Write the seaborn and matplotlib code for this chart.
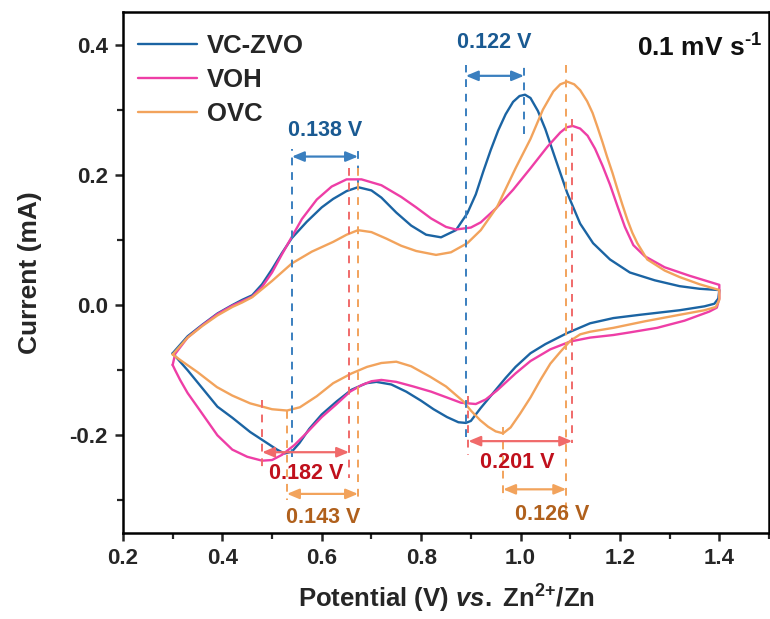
import numpy as np
import pandas as pd
import matplotlib
matplotlib.use("Agg")
import matplotlib.pyplot as plt
from matplotlib.ticker import MultipleLocator
import seaborn as sns

# ---------------- data ----------------
vczvo_x = [0.30, 0.33, 0.36, 0.39, 0.42, 0.44, 0.46, 0.48, 0.50, 0.52, 0.54, 0.57, 0.60, 0.623, 0.65, 0.673,
           0.70, 0.72, 0.75, 0.78, 0.81, 0.84, 0.87, 0.893, 0.91, 0.925, 0.94, 0.955, 0.97, 0.985, 0.998, 1.009,
           1.02, 1.035, 1.05, 1.07, 1.094, 1.12, 1.146, 1.18, 1.22, 1.27, 1.32, 1.36, 1.40,
           1.398, 1.39, 1.37, 1.32, 1.24, 1.187, 1.14, 1.094, 1.05, 1.02, 0.99, 0.97, 0.945, 0.92, 0.90,
           0.89, 0.875, 0.852, 0.825, 0.80, 0.77, 0.74, 0.71, 0.69, 0.66, 0.63, 0.60, 0.575, 0.555, 0.54,
           0.525, 0.51, 0.48, 0.456, 0.42, 0.39, 0.36, 0.33, 0.30]
vczvo_y = [-0.074, -0.048, -0.030, -0.013, 0.000, 0.008, 0.015, 0.032, 0.055, 0.080, 0.103, 0.128, 0.150, 0.163,
           0.175, 0.181, 0.176, 0.165, 0.142, 0.122, 0.108, 0.104, 0.115, 0.141, 0.170, 0.205, 0.238, 0.268,
           0.293, 0.312, 0.321, 0.323, 0.318, 0.298, 0.270, 0.225, 0.172, 0.125, 0.095, 0.070, 0.050, 0.038,
           0.029, 0.025, 0.023,
           0.010, 0.002, -0.002, -0.008, -0.015, -0.020, -0.028, -0.043, -0.060, -0.074, -0.095, -0.112,
           -0.135, -0.158, -0.178, -0.181, -0.180, -0.172, -0.160, -0.147, -0.133, -0.122, -0.118, -0.120,
           -0.130, -0.148, -0.168, -0.190, -0.212, -0.225, -0.228, -0.222, -0.207, -0.195, -0.173, -0.156,
           -0.128, -0.100, -0.074]

voh_x = [0.30, 0.305, 0.33, 0.36, 0.39, 0.42, 0.44, 0.46, 0.48, 0.50, 0.52, 0.54, 0.56, 0.59, 0.62, 0.65, 0.68,
         0.72, 0.76, 0.79, 0.82, 0.85, 0.87, 0.90, 0.92, 0.95, 0.985, 1.02, 1.054, 1.08, 1.093, 1.105, 1.12,
         1.135, 1.15, 1.165, 1.18, 1.195, 1.21, 1.227, 1.25, 1.29, 1.34, 1.40,
         1.40, 1.395, 1.38, 1.33, 1.275, 1.22, 1.187, 1.14, 1.10, 1.06, 1.02, 0.99, 0.953, 0.93, 0.91, 0.88,
         0.852, 0.82, 0.784, 0.75, 0.72, 0.70, 0.68, 0.657, 0.63, 0.60, 0.57, 0.545, 0.52, 0.50, 0.48, 0.45,
         0.42, 0.39, 0.355, 0.33, 0.315, 0.305, 0.30]
voh_y = [-0.092, -0.075, -0.050, -0.031, -0.014, -0.001, 0.006, 0.013, 0.028, 0.050, 0.078, 0.105, 0.132,
         0.162, 0.182, 0.193, 0.193, 0.184, 0.166, 0.150, 0.133, 0.120, 0.116, 0.119, 0.127, 0.148, 0.177,
         0.210, 0.243, 0.265, 0.273, 0.275, 0.271, 0.260, 0.240, 0.214, 0.185, 0.152, 0.120, 0.092, 0.075,
         0.058, 0.045, 0.031,
         0.010, -0.004, -0.010, -0.024, -0.035, -0.042, -0.046, -0.050, -0.056, -0.068, -0.086, -0.105,
         -0.131, -0.145, -0.152, -0.150, -0.142, -0.133, -0.125, -0.118, -0.115, -0.117, -0.123, -0.133,
         -0.152, -0.172, -0.196, -0.215, -0.230, -0.238, -0.239, -0.233, -0.222, -0.200, -0.162, -0.135,
         -0.115, -0.100, -0.092]

ovc_x = [0.30, 0.33, 0.36, 0.39, 0.42, 0.44, 0.46, 0.50, 0.54, 0.58, 0.623, 0.65, 0.673, 0.70, 0.73, 0.76,
         0.79, 0.83, 0.86, 0.893, 0.92, 0.953, 0.99, 1.02, 1.045, 1.066, 1.08, 1.094, 1.108, 1.12, 1.134,
         1.145, 1.155, 1.165, 1.174, 1.185, 1.195, 1.205, 1.215, 1.225, 1.235, 1.255, 1.29, 1.32, 1.36, 1.40,
         1.40, 1.393, 1.37, 1.32, 1.25, 1.187, 1.14, 1.12, 1.10, 1.08, 1.06, 1.04, 1.02, 0.999, 0.98, 0.965,
         0.95, 0.935, 0.919, 0.90, 0.885, 0.85, 0.818, 0.78, 0.75, 0.72, 0.691, 0.66, 0.623, 0.59, 0.556,
         0.53, 0.50, 0.456, 0.42, 0.389, 0.35, 0.32, 0.30]
ovc_y = [-0.076, -0.050, -0.032, -0.016, -0.003, 0.004, 0.012, 0.037, 0.064, 0.082, 0.097, 0.108, 0.115,
         0.112, 0.102, 0.091, 0.083, 0.077, 0.081, 0.095, 0.115, 0.151, 0.210, 0.255, 0.300, 0.328, 0.339,
         0.343, 0.339, 0.330, 0.313, 0.295, 0.273, 0.250, 0.228, 0.203, 0.178, 0.154, 0.131, 0.111, 0.095,
         0.070, 0.053, 0.043, 0.032, 0.023,
         0.008, -0.003, -0.008, -0.015, -0.025, -0.035, -0.041, -0.045, -0.055, -0.072, -0.090, -0.115,
         -0.142, -0.167, -0.188, -0.197, -0.194, -0.187, -0.177, -0.162, -0.148, -0.125, -0.110, -0.094,
         -0.087, -0.089, -0.095, -0.105, -0.120, -0.140, -0.157, -0.162, -0.160, -0.151, -0.139, -0.126,
         -0.103, -0.087, -0.076]

series_names = ["VC-ZVO", "VOH", "OVC"]
series_colors = ["#1b64a3", "#ee3ea6", "#f2a35c"]

sep_labels = ["0.138 V", "0.122 V", "0.182 V", "0.143 V", "0.201 V", "0.126 V"]

# ---------------- styling ----------------
sns.set_theme(style="ticks")
plt.rcParams["font.family"] = ["Liberation Sans", "DejaVu Sans"]
plt.rcParams["font.weight"] = "bold"
plt.rcParams["mathtext.fontset"] = "custom"
plt.rcParams["mathtext.rm"] = "Liberation Sans:bold"
plt.rcParams["mathtext.bf"] = "Liberation Sans:bold"
plt.rcParams["mathtext.it"] = "Liberation Sans:bold:italic"
plt.rcParams["mathtext.default"] = "rm"

fig = plt.figure(figsize=(7.7, 6.19), dpi=100)
ax = fig.add_axes([0.1597, 0.139, 0.839, 0.8416])

frames = []
for name, xs, ys in zip(series_names, [vczvo_x, voh_x, ovc_x], [vczvo_y, voh_y, ovc_y]):
    frames.append(pd.DataFrame({"Potential": xs, "Current": ys, "Sample": name}))
df = pd.concat(frames, ignore_index=True)

for name, col in zip(series_names, series_colors):
    sub = df[df["Sample"] == name]
    sns.lineplot(data=sub, x="Potential", y="Current", sort=False, estimator=None,
                 color=col, linewidth=1.7, ax=ax, label=name)

ax.set_xlim(0.2, 1.5)
ax.set_ylim(-0.35, 0.45)
ax.xaxis.set_minor_locator(MultipleLocator(0.1))
ax.yaxis.set_minor_locator(MultipleLocator(0.1))
ax.set_xticks([0.2, 0.4, 0.6, 0.8, 1.0, 1.2, 1.4])
ax.set_yticks([-0.2, 0.0, 0.2, 0.4])
ax.set_yticklabels(["-0.2", "0.0", "0.2", "0.4"])
ax.set_xticklabels(["0.2", "0.4", "0.6", "0.8", "1.0", "1.2", "1.4"])
ax.tick_params(which="major", direction="out", length=6, width=1.8, labelsize=16, pad=5)
ax.tick_params(which="minor", direction="out", length=4, width=1.6)
for lab in ax.get_xticklabels() + ax.get_yticklabels():
    lab.set_fontweight("bold")
for s in ax.spines.values():
    s.set_linewidth(1.8)
    s.set_color("black")

ax.set_xlabel(r"Potential (V) $\mathit{vs.}$ Zn$^{\text{2+}}$/Zn", fontsize=18.5, fontweight="bold", labelpad=10)
ax.set_ylabel("Current (mA)", fontsize=19, fontweight="bold", labelpad=20)

leg = ax.legend(loc="upper left", frameon=False, fontsize=18.5, handlelength=2.3, handletextpad=0.4,
                labelspacing=0.4, borderaxespad=0.3, bbox_to_anchor=(-0.005, 0.993))
for t in leg.get_texts():
    t.set_fontweight("bold")

ax.text(0.99, 0.93, r"0.1 mV s$^{\text{-1}}$", transform=ax.transAxes, ha="right", va="center",
        fontsize=19, fontweight="bold", color="#111111")

# ---------------- annotations ----------------
c_blue_d, c_blue_t = "#3a7fbf", "#1a5a92"
c_red_d, c_red_t = "#f06a6a", "#c0101c"
c_org_d, c_org_t = "#f2a35c", "#b0601c"
dash = dict(linestyle=(0, (4, 3.5)), linewidth=1.4)
fs_ann = 15.5

def vline(x, y0, y1, color):
    ax.plot([x, x], [y0, y1], color=color, **dash)

def sep_arrow(x0, x1, y, color):
    ax.annotate("", xy=(x1, y), xytext=(x0, y),
                arrowprops=dict(arrowstyle="<|-|>,head_length=0.6,head_width=0.25",
                                color=color, lw=1.6, shrinkA=0, shrinkB=0))

vline(0.540, -0.233, 0.24, c_blue_d)
vline(0.673, 0.18, 0.24, c_blue_d)
sep_arrow(0.540, 0.673, 0.228, c_blue_d)
ax.text(0.607, 0.268, sep_labels[0], ha="center", va="center", fontsize=fs_ann, fontweight="bold", color=c_blue_t)

vline(0.890, -0.203, 0.369, c_blue_d)
vline(1.007, 0.262, 0.369, c_blue_d)
sep_arrow(0.890, 1.007, 0.352, c_blue_d)
ax.text(0.948, 0.403, sep_labels[1], ha="center", va="center", fontsize=fs_ann, fontweight="bold", color=c_blue_t)

vline(0.480, -0.146, -0.254, c_red_d)
vline(0.655, 0.21, -0.265, c_red_d)
sep_arrow(0.480, 0.655, -0.226, c_red_d)
ax.text(0.568, -0.258, sep_labels[2], ha="center", va="center", fontsize=fs_ann, fontweight="bold", color=c_red_t)

vline(0.530, -0.162, -0.300, c_org_d)
vline(0.673, 0.21, -0.300, c_org_d)
sep_arrow(0.530, 0.673, -0.290, c_org_d)
ax.text(0.603, -0.326, sep_labels[3], ha="center", va="center", fontsize=fs_ann, fontweight="bold", color=c_org_t)

vline(0.895, -0.140, -0.230, c_red_d)
vline(1.104, 0.285, -0.212, c_red_d)
sep_arrow(0.895, 1.104, -0.209, c_red_d)
ax.text(0.993, -0.242, sep_labels[4], ha="center", va="center", fontsize=fs_ann, fontweight="bold", color=c_red_t)

vline(0.965, -0.188, -0.300, c_org_d)
vline(1.092, 0.369, -0.330, c_org_d)
sep_arrow(0.965, 1.092, -0.283, c_org_d)
ax.text(1.063, -0.321, sep_labels[5], ha="center", va="center", fontsize=fs_ann, fontweight="bold", color=c_org_t)

fig.savefig("out.png", dpi=100)
